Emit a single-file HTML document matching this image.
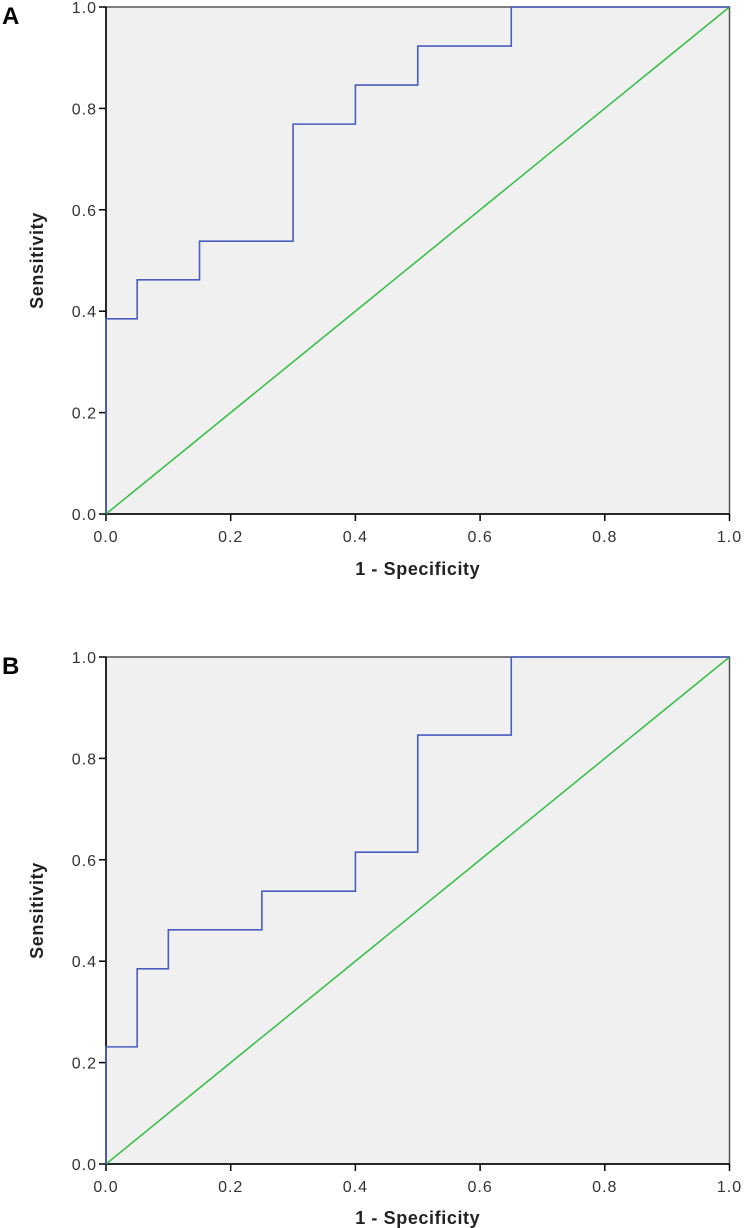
<!DOCTYPE html>
<html><head><meta charset="utf-8"><style>
html,body{margin:0;padding:0;background:#fff;}
svg{display:block;font-family:"Liberation Sans",Arial,sans-serif;}
</style></head><body>
<svg id="chart" width="744" height="1228" viewBox="0 0 744 1228"></svg>
<script>
const xTicks = [0, 0.2, 0.4, 0.6, 0.8, 1.0];
const yTicks = [0, 0.2, 0.4, 0.6, 0.8, 1.0];
const rocAfpr = [0, 0, 0.05, 0.05, 0.15, 0.15, 0.3, 0.3, 0.4, 0.4, 0.5, 0.5, 0.65, 0.65, 1.0];
const rocAtpr = [0, 0.385, 0.385, 0.462, 0.462, 0.538, 0.538, 0.769, 0.769, 0.846, 0.846, 0.923, 0.923, 1.0, 1.0];
const rocBfpr = [0, 0, 0.05, 0.05, 0.1, 0.1, 0.25, 0.25, 0.4, 0.4, 0.5, 0.5, 0.65, 0.65, 1.0];
const rocBtpr = [0, 0.231, 0.231, 0.385, 0.385, 0.462, 0.462, 0.538, 0.538, 0.615, 0.615, 0.846, 0.846, 1.0, 1.0];
const refLine = [0, 1];

const NS = "http://www.w3.org/2000/svg";
const svg = document.getElementById('chart');
function mk(tag, attrs, parent){const e=document.createElementNS(NS,tag);for(const k in attrs)e.setAttribute(k,attrs[k]);(parent||svg).appendChild(e);return e;}

function panel(letter, top, bottom, fpr, tpr, titleY){
  const L=106, R=729.5;
  const g = mk('g',{});
  
  
  const xs=v=>L+v*(R-L), ys=v=>bottom-v*(bottom-top);
  const bg=mk('rect',{x:L,y:top,width:R-L,height:bottom-top,fill:'#f0f0f0',stroke:'#555','stroke-width':1.5},g);
  
  
  const lab=mk('text',{x:2,y:top+17,'font-size':24,'font-weight':'bold',fill:'#000'},g);
  lab.textContent=letter;
  
  
  mk('line',{x1:L,y1:top,x2:L,y2:bottom,stroke:'#000','stroke-width':1.5},g);
  mk('line',{x1:L,y1:bottom,x2:R,y2:bottom,stroke:'#000','stroke-width':1.5},g);
  yTicks.forEach(t=>{
    const y=ys(t);
    mk('line',{x1:L-7,y1:y,x2:L,y2:y,stroke:'#000','stroke-width':1.5},g);
    const tx=mk('text',{x:L-9,y:y+6,'font-size':16,'letter-spacing':1,'text-anchor':'end',fill:'#333'},g);
    tx.textContent=t.toFixed(1);
    
    
  });
  xTicks.forEach(t=>{
    const x=xs(t);
    mk('line',{x1:x,y1:bottom,x2:x,y2:bottom+7,stroke:'#000','stroke-width':1.5},g);
    const tx=mk('text',{x:x,y:bottom+28,'font-size':16,'letter-spacing':1,'text-anchor':'middle',fill:'#333'},g);
    tx.textContent=t.toFixed(1);
    
    
  });
  const xt=mk('text',{x:(L+R)/2,y:titleY,'font-size':18,'font-weight':'bold','letter-spacing':0.6,'text-anchor':'middle',fill:'#222'},g);
  xt.textContent='1 - Specificity';
  
  
  const cy=(top+bottom)/2;
  const yt=mk('text',{x:43,y:cy,'font-size':18,'font-weight':'bold','letter-spacing':0.6,'text-anchor':'middle',fill:'#222',transform:`rotate(-90 43 ${cy})`},g);
  yt.textContent='Sensitivity';
  
  
  const ref=mk('line',{x1:xs(refLine[0]),y1:ys(refLine[0]),x2:xs(refLine[1]),y2:ys(refLine[1]),stroke:'#3cc04c','stroke-width':1.6},g);
  
  
  const pts=fpr.map((f,i)=>xs(f)+','+ys(tpr[i])).join(' ');
  const roc=mk('polyline',{points:pts,fill:'none',stroke:'#4a5cc0','stroke-width':1.6},g);
  
  
}
panel('A',7,514,rocAfpr,rocAtpr,575);
panel('B',657,1164,rocBfpr,rocBtpr,1224);
</script>
</body></html>
